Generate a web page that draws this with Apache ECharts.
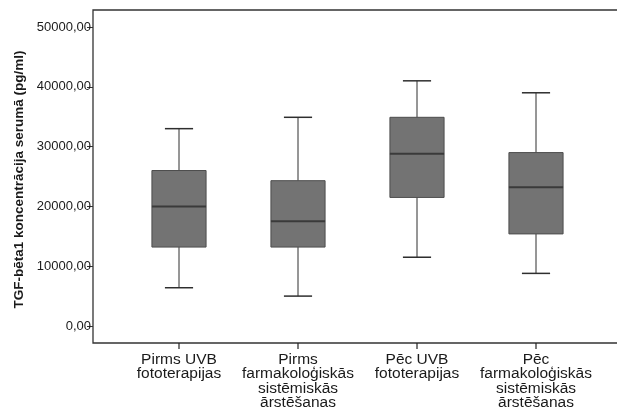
<!DOCTYPE html>
<html>
<head>
<meta charset="utf-8">
<script src="https://cdn.jsdelivr.net/npm/echarts@6/dist/echarts.min.js"></script>
<style>
  html, body { margin: 0; padding: 0; background: #fff; }
  #chart { width: 617px; height: 409px; }
</style>
</head>
<body>
<div id="chart"></div>
<script>
// Groups along the horizontal axis
const categories = [
  'Pirms UVB\nfototerapijas',
  'Pirms\nfarmakoloģiskās\nsistēmiskās\nārstēšanas',
  'Pēc UVB\nfototerapijas',
  'Pēc\nfarmakoloģiskās\nsistēmiskās\nārstēšanas'
];

// Box statistics per group: whisker low, Q1, median, Q3, whisker high (pg/ml)
const whiskerLow  = [6400, 5000, 11500, 8800];
const quartile1   = [13200, 13200, 21500, 15400];
const medians     = [20000, 17500, 28800, 23200];
const quartile3   = [26000, 24300, 34900, 29000];
const whiskerHigh = [33000, 34900, 41000, 39000];

// Labelled ticks on the value axis
const yTicks = [0, 10000, 20000, 30000, 40000, 50000];

const yTitle = 'TGF-bēta1 koncentrācija serumā (pg/ml)';

// Value-axis range; the lower end reaches just below the frame so the
// category ticks hang under the floor line
const yMin = -3846;
const yMax = 52843;

const boxData = categories.map((c, i) => [
  i, whiskerLow[i], quartile1[i], medians[i], quartile3[i], whiskerHigh[i]
]);

const fmt = v => v.toFixed(2).replace('.', ',');

function renderBox(params, api) {
  const i = api.value(0);
  const band = api.size([1, 0])[0];
  const boxW = band * 0.455;
  const capW = boxW * 0.52;
  const pLow = api.coord([i, api.value(1)]);
  const pQ1 = api.coord([i, api.value(2)]);
  const pMed = api.coord([i, api.value(3)]);
  const pQ3 = api.coord([i, api.value(4)]);
  const pHigh = api.coord([i, api.value(5)]);
  const pFloor = api.coord([i, yMin]);
  const cx = pMed[0];
  const lineStyle = { stroke: '#2e2e2e', lineWidth: 1 };
  return {
    type: 'group',
    children: [
      // category tick below the frame floor
      { type: 'line', shape: { x1: cx, y1: pFloor[1] - 6, x2: cx, y2: pFloor[1] }, style: { stroke: '#222', lineWidth: 1.2 } },
      // whiskers
      { type: 'line', shape: { x1: cx, y1: pQ3[1], x2: cx, y2: pHigh[1] }, style: lineStyle },
      { type: 'line', shape: { x1: cx, y1: pLow[1], x2: cx, y2: pQ1[1] }, style: lineStyle },
      { type: 'line', shape: { x1: cx - capW / 2, y1: pHigh[1], x2: cx + capW / 2, y2: pHigh[1] }, style: { stroke: '#2e2e2e', lineWidth: 1.5 } },
      { type: 'line', shape: { x1: cx - capW / 2, y1: pLow[1], x2: cx + capW / 2, y2: pLow[1] }, style: { stroke: '#2e2e2e', lineWidth: 1.5 } },
      // box
      { type: 'rect', shape: { x: cx - boxW / 2, y: pQ3[1], width: boxW, height: pQ1[1] - pQ3[1] },
        style: { fill: '#737373', stroke: '#4d4d4d', lineWidth: 1 } },
      // median
      { type: 'line', shape: { x1: cx - boxW / 2, y1: pMed[1], x2: cx + boxW / 2, y2: pMed[1] },
        style: { stroke: '#3a3a3a', lineWidth: 2 } }
    ]
  };
}

const chart = echarts.init(document.getElementById('chart'), null, { renderer: 'canvas' });

chart.setOption({
  backgroundColor: '#ffffff',
  animation: false,
  grid: [
    // data area (its floor sits a tick's length under the frame)
    { left: 119.5, right: 21.5, top: 10, bottom: 60, outerBoundsMode: 'none' },
    // plot frame, open on the right edge of the page
    { left: 93, width: 600, top: 10, bottom: 66, outerBoundsMode: 'none',
      show: true, borderColor: '#333', borderWidth: 1.3, backgroundColor: 'transparent' }
  ],
  xAxis: [
    {
      type: 'category',
      gridIndex: 0,
      position: 'bottom',
      data: categories,
      boundaryGap: true,
      axisLine: { show: false, onZero: false },
      axisTick: { show: false },
      axisLabel: {
        interval: 0,
        margin: 3,
        color: '#1a1a1a',
        fontFamily: 'Liberation Sans, Arial, sans-serif',
        fontSize: 15.5,
        lineHeight: 14.5,
        align: 'center'
      },
      splitLine: { show: false }
    },
    { type: 'value', gridIndex: 1, show: false }
  ],
  yAxis: [
    {
      type: 'value',
      gridIndex: 0,
      min: yMin,
      max: yMax,
      offset: 26.5,
      axisLine: { show: false },
      axisTick: { show: true, length: 6, customValues: yTicks, lineStyle: { color: '#333', width: 1 } },
      axisLabel: {
        customValues: yTicks,
        formatter: fmt,
        margin: 2,
        color: '#1a1a1a',
        fontFamily: 'Liberation Sans, Arial, sans-serif',
        fontSize: 13
      },
      splitLine: { show: false },
      name: yTitle,
      nameLocation: 'middle',
      nameGap: 67,
      nameRotate: 90,
      nameTextStyle: {
        color: '#1a1a1a',
        fontFamily: 'Liberation Sans, Arial, sans-serif',
        fontSize: 13.5,
        fontWeight: 'bold'
      }
    },
    { type: 'value', gridIndex: 1, show: false }
  ],
  series: [
    {
      type: 'custom',
      xAxisIndex: 0,
      yAxisIndex: 0,
      renderItem: renderBox,
      encode: { x: 0, y: [1, 2, 3, 4, 5] },
      data: boxData,
      z: 3
    }
  ]
});
</script>
</body>
</html>
